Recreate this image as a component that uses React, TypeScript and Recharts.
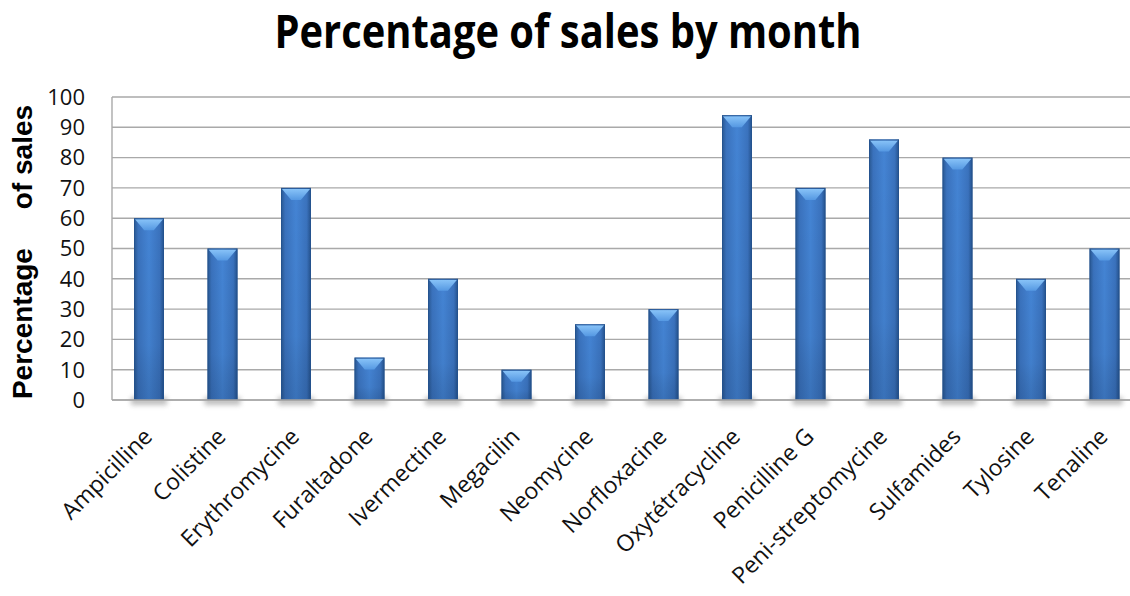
import { BarChart, Bar, XAxis, YAxis, CartesianGrid } from "recharts";

const drugs = [
  "Ampicilline", "Colistine", "Erythromycine", "Furaltadone", "Ivermectine",
  "Megacilin", "Neomycine", "Norfloxacine", "Oxytétracycline", "Penicilline G",
  "Peni-streptomycine", "Sulfamides", "Tylosine", "Tenaline",
];
const salesPct = [60, 50, 70, 14, 40, 10, 25, 30, 94, 70, 86, 80, 40, 50];
const yTicks = [0, 10, 20, 30, 40, 50, 60, 70, 80, 90, 100];

const chartData = drugs.map((name, i) => ({ name, pct: salesPct[i] }));

const GRID = "#a9a9a9";

// bar drawn like the office "bevel" style: shaded body, light chevron on top, soft shadow
const BevelBar = (props: any) => {
  const { x, y, width, height } = props;
  if (!height || height <= 0) return null;
  const bev = Math.min(12, height / 2);
  return (
    <g>
      <rect x={x - 3} y={y + height - 3} width={width + 6} height={8} fill="#8a8a8a" opacity={0.55} filter="url(#barShadow)" />
      <rect x={x} y={y} width={width} height={height} fill="url(#barBody)" />
      <rect x={x} y={y} width={width} height={height} fill="url(#barShade)" />
      <polygon
        points={`${x + 1},${y + 1} ${x + width - 1},${y + 1} ${x + width * 0.66},${y + bev} ${x + width * 0.34},${y + bev}`}
        fill="url(#barTop)"
      />
      <rect x={x + 0.5} y={y + 0.5} width={width - 1} height={height - 1} fill="none" stroke="#24528f" strokeWidth={1} opacity={0.8} />
    </g>
  );
};

const XTick = ({ x, payload }: any) => (
  <g transform={`translate(${x + 5},438)`}>
    <text textAnchor="end" transform="rotate(-45)" fontFamily="Open Sans" fontSize={23} fill="#111">
      {payload.value}
    </text>
  </g>
);

export default function App() {
  return (
    <div style={{ position: "absolute", left: 0, top: 0, width: 1130, height: 596, overflow: "hidden", background: "#fff" }}>
      <svg width={0} height={0} style={{ position: "absolute" }}>
        <defs>
          <linearGradient id="barBody" x1="0" y1="0" x2="1" y2="0">
            <stop offset="0" stopColor="#28568f" />
            <stop offset="0.14" stopColor="#3a72bd" />
            <stop offset="0.5" stopColor="#4484d4" />
            <stop offset="0.86" stopColor="#3a72bd" />
            <stop offset="1" stopColor="#23508a" />
          </linearGradient>
          <linearGradient id="barShade" x1="0" y1="0" x2="0" y2="1">
            <stop offset="0" stopColor="#000" stopOpacity={0} />
            <stop offset="0.7" stopColor="#000" stopOpacity={0.04} />
            <stop offset="1" stopColor="#0a2040" stopOpacity={0.18} />
          </linearGradient>
          <linearGradient id="barTop" x1="0" y1="0" x2="0" y2="1">
            <stop offset="0" stopColor="#88c3f8" />
            <stop offset="1" stopColor="#5598e2" />
          </linearGradient>
          <filter id="barShadow" x="-30%" y="-100%" width="160%" height="300%">
            <feGaussianBlur stdDeviation="2.5" />
          </filter>
        </defs>
      </svg>
      <BarChart
        width={1145}
        height={596}
        data={chartData}
        margin={{ top: 97, right: 4, left: 0, bottom: 0 }}
      >
        <CartesianGrid vertical={false} stroke={GRID} strokeWidth={1.4} />
        <XAxis
          dataKey="name"
          interval={0}
          height={196}
          tickLine={false}
          tickSize={0}
          axisLine={{ stroke: GRID, strokeWidth: 1.4 }}
          tick={<XTick />}
        />
        <YAxis
          domain={[0, 100]}
          ticks={yTicks}
          interval={0}
          width={112}
          tickLine={false}
          tickSize={0}
          tickMargin={27}
          axisLine={{ stroke: GRID, strokeWidth: 1.4 }}
          tick={{ fontFamily: "Open Sans", fontSize: 22, fill: "#111" }}
        />
        <Bar dataKey="pct" barSize={30} shape={<BevelBar />} isAnimationActive={false} />
      </BarChart>
      <svg width={1130} height={596} style={{ position: "absolute", left: 0, top: 0, pointerEvents: "none" }}>
        <text
          x={568}
          y={48}
          textAnchor="middle"
          fontFamily="Open Sans"
          fontWeight="bold"
          fontSize={46}
          textLength={587}
          lengthAdjust="spacingAndGlyphs"
          fill="#000"
        >
          Percentage of sales by month
        </text>
        <text
          x={32}
          y={252}
          transform="rotate(-90 32 252)"
          textAnchor="middle"
          fontFamily="Liberation Sans"
          fontWeight="bold"
          fontSize={28}
          style={{ whiteSpace: "pre" }}
          fill="#000"
        >
          {"Percentage     of sales"}
        </text>
      </svg>
    </div>
  );
}
